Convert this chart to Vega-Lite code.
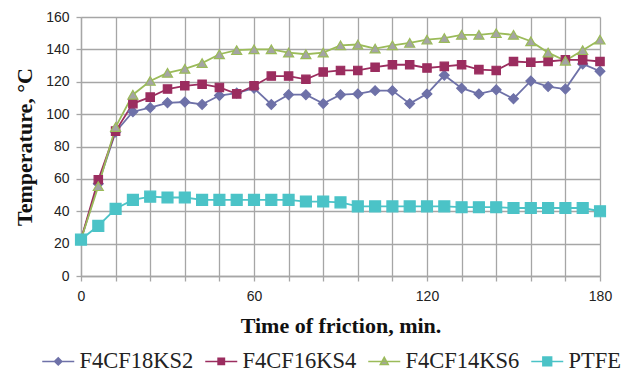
{
  "$schema": "https://vega.github.io/schema/vega-lite/v6.json",
  "width": 519,
  "height": 259,
  "autosize": "none",
  "padding": {"left": 81, "top": 17, "right": 24, "bottom": 102},
  "background": "white",
  "config": {
    "view": {"stroke": null},
    "axis": {
      "gridColor": "#A6A6A6",
      "gridWidth": 1.3,
      "domainColor": "#A6A6A6",
      "domainWidth": 1.3,
      "tickColor": "#A6A6A6",
      "tickWidth": 1.3,
      "tickSize": 5,
      "labelFont": "Liberation Sans",
      "labelFontSize": 14,
      "labelColor": "#222222",
      "titleFont": "Liberation Serif",
      "titleFontSize": 22,
      "titleFontWeight": "bold",
      "titleColor": "#111111"
    },
    "legend": {
      "labelFont": "Liberation Serif",
      "labelFontSize": 22.5,
      "labelColor": "#222222"
    }
  },
  "data": {
    "values": [
      {"t":0,"s":"F4CF18KS2","v":22.5},{"t":6,"s":"F4CF18KS2","v":57},{"t":12,"s":"F4CF18KS2","v":89},{"t":18,"s":"F4CF18KS2","v":101.5},{"t":24,"s":"F4CF18KS2","v":104},{"t":30,"s":"F4CF18KS2","v":107},{"t":36,"s":"F4CF18KS2","v":107.5},{"t":42,"s":"F4CF18KS2","v":106},{"t":48,"s":"F4CF18KS2","v":111.5},{"t":54,"s":"F4CF18KS2","v":113},{"t":60,"s":"F4CF18KS2","v":116},{"t":66,"s":"F4CF18KS2","v":106},{"t":72,"s":"F4CF18KS2","v":112},{"t":78,"s":"F4CF18KS2","v":112},{"t":84,"s":"F4CF18KS2","v":106.5},{"t":90,"s":"F4CF18KS2","v":112},{"t":96,"s":"F4CF18KS2","v":112.5},{"t":102,"s":"F4CF18KS2","v":114.5},{"t":108,"s":"F4CF18KS2","v":114.5},{"t":114,"s":"F4CF18KS2","v":106.5},{"t":120,"s":"F4CF18KS2","v":112.5},{"t":126,"s":"F4CF18KS2","v":124},{"t":132,"s":"F4CF18KS2","v":116},{"t":138,"s":"F4CF18KS2","v":112.5},{"t":144,"s":"F4CF18KS2","v":115},{"t":150,"s":"F4CF18KS2","v":109.5},{"t":156,"s":"F4CF18KS2","v":120.5},{"t":162,"s":"F4CF18KS2","v":117},{"t":168,"s":"F4CF18KS2","v":115.5},{"t":174,"s":"F4CF18KS2","v":131},{"t":180,"s":"F4CF18KS2","v":126.5},
      {"t":0,"s":"F4CF16KS4","v":22.5},{"t":6,"s":"F4CF16KS4","v":59.5},{"t":12,"s":"F4CF16KS4","v":89.5},{"t":18,"s":"F4CF16KS4","v":106.5},{"t":24,"s":"F4CF16KS4","v":110.5},{"t":30,"s":"F4CF16KS4","v":115.5},{"t":36,"s":"F4CF16KS4","v":117.5},{"t":42,"s":"F4CF16KS4","v":118.5},{"t":48,"s":"F4CF16KS4","v":116.5},{"t":54,"s":"F4CF16KS4","v":112.5},{"t":60,"s":"F4CF16KS4","v":117.5},{"t":66,"s":"F4CF16KS4","v":123.5},{"t":72,"s":"F4CF16KS4","v":123.5},{"t":78,"s":"F4CF16KS4","v":121.5},{"t":84,"s":"F4CF16KS4","v":126},{"t":90,"s":"F4CF16KS4","v":127},{"t":96,"s":"F4CF16KS4","v":127},{"t":102,"s":"F4CF16KS4","v":129},{"t":108,"s":"F4CF16KS4","v":130.5},{"t":114,"s":"F4CF16KS4","v":130.5},{"t":120,"s":"F4CF16KS4","v":128.5},{"t":126,"s":"F4CF16KS4","v":129.5},{"t":132,"s":"F4CF16KS4","v":130.5},{"t":138,"s":"F4CF16KS4","v":127.5},{"t":144,"s":"F4CF16KS4","v":127},{"t":150,"s":"F4CF16KS4","v":132.5},{"t":156,"s":"F4CF16KS4","v":132},{"t":162,"s":"F4CF16KS4","v":132.5},{"t":168,"s":"F4CF16KS4","v":133.5},{"t":174,"s":"F4CF16KS4","v":133.5},{"t":180,"s":"F4CF16KS4","v":132.5},
      {"t":0,"s":"F4CF14KS6","v":22.5},{"t":6,"s":"F4CF14KS6","v":55.5},{"t":12,"s":"F4CF14KS6","v":92},{"t":18,"s":"F4CF14KS6","v":112},{"t":24,"s":"F4CF14KS6","v":120.5},{"t":30,"s":"F4CF14KS6","v":125.5},{"t":36,"s":"F4CF14KS6","v":128},{"t":42,"s":"F4CF14KS6","v":131.5},{"t":48,"s":"F4CF14KS6","v":137},{"t":54,"s":"F4CF14KS6","v":139.5},{"t":60,"s":"F4CF14KS6","v":140},{"t":66,"s":"F4CF14KS6","v":140},{"t":72,"s":"F4CF14KS6","v":138},{"t":78,"s":"F4CF14KS6","v":137},{"t":84,"s":"F4CF14KS6","v":138},{"t":90,"s":"F4CF14KS6","v":142.5},{"t":96,"s":"F4CF14KS6","v":143},{"t":102,"s":"F4CF14KS6","v":140.5},{"t":108,"s":"F4CF14KS6","v":142.5},{"t":114,"s":"F4CF14KS6","v":144},{"t":120,"s":"F4CF14KS6","v":146},{"t":126,"s":"F4CF14KS6","v":147},{"t":132,"s":"F4CF14KS6","v":149},{"t":138,"s":"F4CF14KS6","v":149},{"t":144,"s":"F4CF14KS6","v":150},{"t":150,"s":"F4CF14KS6","v":149},{"t":156,"s":"F4CF14KS6","v":145},{"t":162,"s":"F4CF14KS6","v":138},{"t":168,"s":"F4CF14KS6","v":133},{"t":174,"s":"F4CF14KS6","v":139.5},{"t":180,"s":"F4CF14KS6","v":146},
      {"t":0,"s":"PTFE","v":22.5},{"t":6,"s":"PTFE","v":31},{"t":12,"s":"PTFE","v":41.5},{"t":18,"s":"PTFE","v":47},{"t":24,"s":"PTFE","v":49},{"t":30,"s":"PTFE","v":48.5},{"t":36,"s":"PTFE","v":48.5},{"t":42,"s":"PTFE","v":47},{"t":48,"s":"PTFE","v":47},{"t":54,"s":"PTFE","v":47},{"t":60,"s":"PTFE","v":47},{"t":66,"s":"PTFE","v":47},{"t":72,"s":"PTFE","v":47},{"t":78,"s":"PTFE","v":46},{"t":84,"s":"PTFE","v":46},{"t":90,"s":"PTFE","v":45.5},{"t":96,"s":"PTFE","v":43},{"t":102,"s":"PTFE","v":43},{"t":108,"s":"PTFE","v":43},{"t":114,"s":"PTFE","v":43},{"t":120,"s":"PTFE","v":43},{"t":126,"s":"PTFE","v":43},{"t":132,"s":"PTFE","v":42.5},{"t":138,"s":"PTFE","v":42.5},{"t":144,"s":"PTFE","v":42.5},{"t":150,"s":"PTFE","v":42},{"t":156,"s":"PTFE","v":42},{"t":162,"s":"PTFE","v":42},{"t":168,"s":"PTFE","v":42},{"t":174,"s":"PTFE","v":42},{"t":180,"s":"PTFE","v":40}
    ]
  },
  "encoding": {
    "x": {
      "field": "t", "type": "quantitative",
      "scale": {"domain": [0, 180], "nice": false},
      "axis": {
        "title": "Time of friction, min.",
        "values": [0,12,24,36,48,60,72,84,96,108,120,132,144,156,168,180],
        "labelExpr": "datum.value % 60 === 0 ? datum.label : ''",
        "labelFlush": false,
        "labelOverlap": false,
        "labelPadding": 8,
        "titlePadding": 12,
        "grid": true
      }
    },
    "y": {
      "field": "v", "type": "quantitative",
      "scale": {"domain": [0, 160], "nice": false},
      "axis": {
        "title": "Temperature, °C",
        "values": [0,20,40,60,80,100,120,140,160],
        "labelPadding": 7,
        "titlePadding": 9,
        "grid": true
      }
    }
  },
  "resolve": {"scale": {"stroke": "independent", "fill": "independent", "shape": "independent", "size": "independent"}},
  "layer": [
    {
      "mark": {"type": "line", "strokeWidth": 1.8},
      "encoding": {
        "stroke": {
          "field": "s", "type": "nominal",
          "scale": {"domain": ["F4CF18KS2","F4CF16KS4","F4CF14KS6","PTFE"], "range": ["#6E71A8","#9B2D5F","#9BBB59","#4BC3C7"]},
          "legend": null
        }
      }
    },
    {
      "mark": {"type": "point", "filled": true, "strokeWidth": 1.2, "opacity": 1},
      "encoding": {
        "stroke": {
          "field": "s", "type": "nominal",
          "scale": {"domain": ["F4CF18KS2","F4CF16KS4","F4CF14KS6","PTFE"], "range": ["#6E71A8","#9B2D5F","#9BBB59","#4BC3C7"]},
          "legend": null
        },
        "fill": {
          "field": "s", "type": "nominal",
          "scale": {"domain": ["F4CF18KS2","F4CF16KS4","F4CF14KS6","PTFE"], "range": ["#6E71A8","#9B2D5F","#A4A4A4","#4BC3C7"]},
          "legend": null
        },
        "shape": {
          "field": "s", "type": "nominal",
          "scale": {"domain": ["F4CF18KS2","F4CF16KS4","F4CF14KS6","PTFE"], "range": ["diamond","square","triangle-up","square"]},
          "legend": null
        },
        "size": {
          "field": "s", "type": "nominal",
          "scale": {"type": "ordinal", "domain": ["F4CF18KS2","F4CF16KS4","F4CF14KS6","PTFE"], "range": [95, 70, 100, 120]},
          "legend": null
        }
      }
    },
    {
      "transform": [{"filter": "false"}],
      "mark": {"type": "point", "filled": true, "strokeWidth": 1.5, "opacity": 1},
      "encoding": {
        "stroke": {
          "field": "s", "type": "nominal",
          "scale": {"domain": ["F4CF18KS2","F4CF16KS4","F4CF14KS6","PTFE"], "range": ["#6E71A8","#9B2D5F","#9BBB59","#4BC3C7"]},
          "legend": {
            "title": null, "orient": "none", "legendX": -42, "legendY": 333,
            "direction": "horizontal", "columns": 4, "columnPadding": 8,
            "labelFont": "Liberation Serif", "labelFontSize": 22.5, "labelColor": "#222222",
            "labelOffset": 18, "symbolSize": 256, "symbolStrokeWidth": 1.5
          }
        },
        "fill": {
          "field": "s", "type": "nominal",
          "scale": {"domain": ["F4CF18KS2","F4CF16KS4","F4CF14KS6","PTFE"], "range": ["#6E71A8","#9B2D5F","#A4A4A4","#4BC3C7"]},
          "legend": {
            "title": null, "orient": "none", "legendX": -42, "legendY": 333,
            "direction": "horizontal", "columns": 4, "columnPadding": 8,
            "labelFont": "Liberation Serif", "labelFontSize": 22.5, "labelColor": "#222222",
            "labelOffset": 18, "symbolSize": 256, "symbolStrokeWidth": 1.5
          }
        },
        "shape": {
          "field": "s", "type": "nominal",
          "scale": {"domain": ["F4CF18KS2","F4CF16KS4","F4CF14KS6","PTFE"], "range": [
            "M-1,0H3M0.55,0L1,-0.45L1.45,0L1,0.45Z",
            "M-1,0H3M0.6,-0.4H1.4V0.4H0.6Z",
            "M-1,0H3M0.5,0.4L1,-0.5L1.5,0.4Z",
            "M-1,0H3M0.45,-0.55H1.55V0.55H0.45Z"
          ]},
          "legend": {
            "title": null, "orient": "none", "legendX": -42, "legendY": 333,
            "direction": "horizontal", "columns": 4, "columnPadding": 8,
            "labelFont": "Liberation Serif", "labelFontSize": 22.5, "labelColor": "#222222",
            "labelOffset": 18, "symbolSize": 256, "symbolStrokeWidth": 1.5
          }
        }
      }
    }
  ]
}
